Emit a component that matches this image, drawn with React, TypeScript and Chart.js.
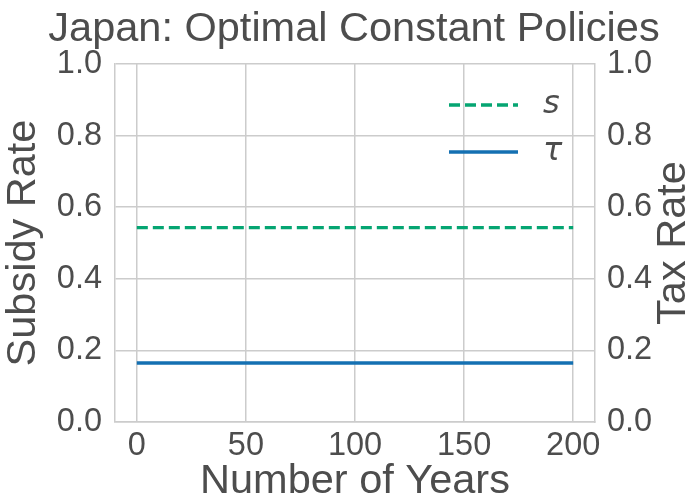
import React, { useEffect, useRef } from 'react';
import { Chart, registerables } from 'chart.js';

Chart.register(...registerables);

// ---- data ----
const years = [0, 50, 100, 150, 200];
const subsidyRate = [0.543, 0.543, 0.543, 0.543, 0.543];
const taxRate = [0.165, 0.165, 0.165, 0.165, 0.165];
const xTicks = [0, 50, 100, 150, 200];
const yTicks = [0, 0.2, 0.4, 0.6, 0.8, 1.0];
const seriesLabels = ['s', 'τ'];
const titleText = 'Japan: Optimal Constant Policies';
const xLabel = 'Number of Years';
const yLeftLabel = 'Subsidy Rate';
const yRightLabel = 'Tax Rate';

const TEXT = '#4d4d4d';
const GRID = '#cccccc';
const FONT = '"Liberation Sans", Arial, sans-serif';

const insideLegend = {
  id: 'insideLegend',
  afterDatasetsDraw(chart: any) {
    const ctx = chart.ctx;
    const area = chart.chartArea;
    chart.data.datasets.forEach((ds: any, i: number) => {
      const y = area.top + 41 + i * 47;
      const x0 = area.right - 146;
      const x1 = x0 + 69;
      ctx.save();
      ctx.strokeStyle = ds.borderColor;
      ctx.lineWidth = ds.borderWidth;
      ctx.setLineDash(ds.borderDash || []);
      ctx.beginPath();
      ctx.moveTo(x0, y);
      ctx.lineTo(x1, y);
      ctx.stroke();
      ctx.setLineDash([]);
      ctx.fillStyle = TEXT;
      ctx.font = 'italic 32px "DejaVu Sans"';
      ctx.textBaseline = 'middle';
      ctx.textAlign = 'left';
      ctx.fillText(ds.label, x0 + 94, y);
      ctx.restore();
    });
  },
};

const extraText = {
  id: 'extraText',
  afterDraw(chart: any) {
    const ctx = chart.ctx;
    const area = chart.chartArea;
    ctx.save();
    ctx.fillStyle = TEXT;
    ctx.textAlign = 'center';
    ctx.textBaseline = 'middle';
    // title
    ctx.font = `41.5px ${FONT}`;
    ctx.fillText(titleText, (area.left + area.right) / 2 - 1, 29.5);
    // right axis title
    ctx.translate(chart.width - 21, (area.top + area.bottom) / 2);
    ctx.rotate(-Math.PI / 2);
    ctx.font = `41.5px ${FONT}`;
    ctx.fillText(yRightLabel, 0, 0);
    ctx.restore();
  },
};

export default function App() {
  const ref = useRef<HTMLCanvasElement | null>(null);

  useEffect(() => {
    document.body.style.margin = '0';
    if (!ref.current) return;
    const chart = new Chart(ref.current, {
      type: 'line',
      data: {
        datasets: [
          {
            label: seriesLabels[0],
            data: years.map((x, i) => ({ x, y: subsidyRate[i] })),
            borderColor: '#05A572',
            borderWidth: 3.4,
            borderDash: [11, 5],
            pointRadius: 0,
            yAxisID: 'y',
          },
          {
            label: seriesLabels[1],
            data: years.map((x, i) => ({ x, y: taxRate[i] })),
            borderColor: '#1470B2',
            borderWidth: 3.4,
            pointRadius: 0,
            yAxisID: 'y2',
          },
        ],
      },
      options: {
        animation: false,
        responsive: false,
        layout: { padding: { top: 64, left: 0, right: 0, bottom: 0 } },
        plugins: {
          legend: { display: false },
          tooltip: { enabled: false },
          title: { display: false },
        },
        scales: {
          x: {
            type: 'linear',
            min: -10,
            max: 210,
            afterBuildTicks: (s: any) => {
              s.ticks = xTicks.map((v) => ({ value: v }));
            },
            afterFit: (s: any) => {
              s.height = 81;
            },
            grid: { color: GRID, lineWidth: 1.5, drawTicks: false },
            border: { color: GRID, width: 1.5 },
            ticks: {
              color: TEXT,
              padding: 5,
              font: { family: FONT, size: 32.5, lineHeight: 1.2 },
              callback: (v: any) => String(v),
            },
            title: {
              display: true,
              text: xLabel,
              color: TEXT,
              font: { family: FONT, size: 41.5, lineHeight: 1 },
              padding: { top: 0, bottom: 0.5 },
            },
          },
          y: {
            type: 'linear',
            position: 'left',
            min: 0,
            max: 1,
            afterBuildTicks: (s: any) => {
              s.ticks = yTicks.map((v) => ({ value: v }));
            },
            afterFit: (s: any) => {
              s.width = 115;
            },
            grid: { color: GRID, lineWidth: 1.5, drawTicks: false },
            border: { color: GRID, width: 1.5 },
            ticks: {
              color: TEXT,
              padding: 13,
              font: { family: FONT, size: 32.5, lineHeight: 1.2 },
              callback: (v: any) => Number(v).toFixed(1),
            },
            title: {
              display: true,
              text: yLeftLabel,
              color: TEXT,
              font: { family: FONT, size: 41.5, lineHeight: 1.15 },
              padding: { top: 0, bottom: 0 },
            },
          },
          y2: {
            type: 'linear',
            position: 'right',
            min: 0,
            max: 1,
            afterBuildTicks: (s: any) => {
              s.ticks = yTicks.map((v) => ({ value: v }));
            },
            afterFit: (s: any) => {
              s.width = 100;
            },
            grid: { drawOnChartArea: false, drawTicks: false },
            border: { color: GRID, width: 1.5 },
            ticks: {
              color: TEXT,
              padding: 12,
              font: { family: FONT, size: 32.5, lineHeight: 1.2 },
              callback: (v: any) => Number(v).toFixed(1),
            },
          },
        },
      },
      plugins: [insideLegend, extraText],
    } as any);
    return () => chart.destroy();
  }, []);

  return <canvas ref={ref} width={695} height={503} style={{ display: 'block' }} />;
}
